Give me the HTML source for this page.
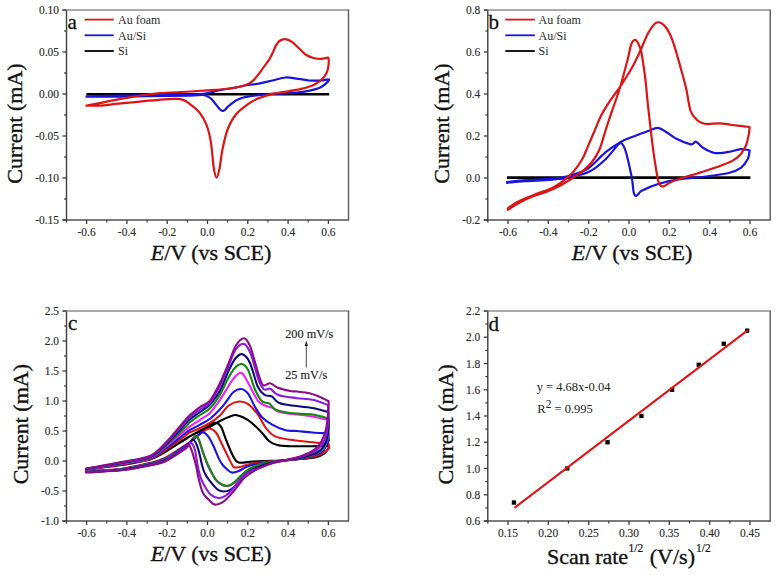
<!DOCTYPE html>
<html><head><meta charset="utf-8"><style>
html,body{margin:0;padding:0;background:#fff;}
svg{display:block;}
text{font-family:"Liberation Serif", serif;}
.tk{font-size:12.3px;fill:#2a2a2a;stroke:#2a2a2a;stroke-width:0.15px;}
.lg{font-size:12px;fill:#2a2a2a;}
.pl{font-size:21px;fill:#111;stroke:#111;stroke-width:0.3px;}
.ti{font-size:22px;fill:#111;stroke:#111;stroke-width:0.35px;}
.eq{font-size:12.5px;fill:#222;}
.sup{font-size:11.5px;fill:#111;stroke:#111;stroke-width:0.2px;}
.ann{font-size:12.3px;fill:#222;stroke:#222;stroke-width:0.15px;}
</style></head><body>
<svg width="780" height="575" viewBox="0 0 780 575">
<rect width="780" height="575" fill="#fff"/>
<line x1="62.5" y1="220" x2="348.5" y2="220" stroke="#505050" stroke-width="1.5"/>
<line x1="66.5" y1="10" x2="66.5" y2="222.5" stroke="#3c3c3c" stroke-width="1.4"/>
<line x1="62.5" y1="10" x2="349.2" y2="10" stroke="#8c8c8c" stroke-width="1.6"/>
<line x1="348.5" y1="10" x2="348.5" y2="220.7" stroke="#5a5a5a" stroke-width="1.4"/>
<line x1="86.6" y1="220" x2="86.6" y2="224" stroke="#3c3c3c" stroke-width="1.3"/>
<line x1="126.9" y1="220" x2="126.9" y2="224" stroke="#3c3c3c" stroke-width="1.3"/>
<line x1="167.2" y1="220" x2="167.2" y2="224" stroke="#3c3c3c" stroke-width="1.3"/>
<line x1="207.5" y1="220" x2="207.5" y2="224" stroke="#3c3c3c" stroke-width="1.3"/>
<line x1="247.8" y1="220" x2="247.8" y2="224" stroke="#3c3c3c" stroke-width="1.3"/>
<line x1="288.1" y1="220" x2="288.1" y2="224" stroke="#3c3c3c" stroke-width="1.3"/>
<line x1="328.4" y1="220" x2="328.4" y2="224" stroke="#3c3c3c" stroke-width="1.3"/>
<line x1="106.8" y1="220" x2="106.8" y2="222.5" stroke="#3c3c3c" stroke-width="1.2"/>
<line x1="147.1" y1="220" x2="147.1" y2="222.5" stroke="#3c3c3c" stroke-width="1.2"/>
<line x1="187.4" y1="220" x2="187.4" y2="222.5" stroke="#3c3c3c" stroke-width="1.2"/>
<line x1="227.6" y1="220" x2="227.6" y2="222.5" stroke="#3c3c3c" stroke-width="1.2"/>
<line x1="267.9" y1="220" x2="267.9" y2="222.5" stroke="#3c3c3c" stroke-width="1.2"/>
<line x1="308.2" y1="220" x2="308.2" y2="222.5" stroke="#3c3c3c" stroke-width="1.2"/>
<text transform="translate(86.6,236) scale(0.93,1)" text-anchor="middle" class="tk">-0.6</text>
<text transform="translate(126.9,236) scale(0.93,1)" text-anchor="middle" class="tk">-0.4</text>
<text transform="translate(167.2,236) scale(0.93,1)" text-anchor="middle" class="tk">-0.2</text>
<text transform="translate(207.5,236) scale(0.93,1)" text-anchor="middle" class="tk">0.0</text>
<text transform="translate(247.8,236) scale(0.93,1)" text-anchor="middle" class="tk">0.2</text>
<text transform="translate(288.1,236) scale(0.93,1)" text-anchor="middle" class="tk">0.4</text>
<text transform="translate(328.4,236) scale(0.93,1)" text-anchor="middle" class="tk">0.6</text>
<line x1="62.5" y1="10.0" x2="66.5" y2="10.0" stroke="#3c3c3c" stroke-width="1.3"/>
<line x1="62.5" y1="52.0" x2="66.5" y2="52.0" stroke="#3c3c3c" stroke-width="1.3"/>
<line x1="62.5" y1="94.0" x2="66.5" y2="94.0" stroke="#3c3c3c" stroke-width="1.3"/>
<line x1="62.5" y1="136.0" x2="66.5" y2="136.0" stroke="#3c3c3c" stroke-width="1.3"/>
<line x1="62.5" y1="178.0" x2="66.5" y2="178.0" stroke="#3c3c3c" stroke-width="1.3"/>
<line x1="62.5" y1="220.0" x2="66.5" y2="220.0" stroke="#3c3c3c" stroke-width="1.3"/>
<line x1="64.0" y1="31.0" x2="66.5" y2="31.0" stroke="#3c3c3c" stroke-width="1.2"/>
<line x1="64.0" y1="73.0" x2="66.5" y2="73.0" stroke="#3c3c3c" stroke-width="1.2"/>
<line x1="64.0" y1="115.0" x2="66.5" y2="115.0" stroke="#3c3c3c" stroke-width="1.2"/>
<line x1="64.0" y1="157.0" x2="66.5" y2="157.0" stroke="#3c3c3c" stroke-width="1.2"/>
<line x1="64.0" y1="199.0" x2="66.5" y2="199.0" stroke="#3c3c3c" stroke-width="1.2"/>
<text transform="translate(59.0,14.1) scale(0.93,1)" text-anchor="end" class="tk">0.10</text>
<text transform="translate(59.0,56.1) scale(0.93,1)" text-anchor="end" class="tk">0.05</text>
<text transform="translate(59.0,98.1) scale(0.93,1)" text-anchor="end" class="tk">0.00</text>
<text transform="translate(59.0,140.1) scale(0.93,1)" text-anchor="end" class="tk">-0.05</text>
<text transform="translate(59.0,182.1) scale(0.93,1)" text-anchor="end" class="tk">-0.10</text>
<text transform="translate(59.0,224.1) scale(0.93,1)" text-anchor="end" class="tk">-0.15</text>
<line x1="86.4" y1="94.2" x2="329.2" y2="94.2" stroke="#000000" stroke-width="2.4"/>
<path d="M86.4,96.3 C92.0,96.2 107.7,95.8 120.0,95.6 C132.3,95.4 148.3,95.3 160.0,95.1 C171.7,94.9 182.5,94.8 190.0,94.6 C197.5,94.3 200.0,94.3 205.0,93.6 C210.0,92.9 215.0,91.2 220.0,90.2 C225.0,89.2 230.3,88.5 235.0,87.6 C239.7,86.7 243.8,85.7 248.0,85.0 C252.2,84.3 256.0,84.2 260.0,83.4 C264.0,82.7 267.9,81.5 272.2,80.5 C276.5,79.5 281.6,77.8 285.6,77.5 C289.7,77.2 292.6,78.2 296.5,78.7 C300.4,79.2 306.7,80.2 308.7,80.5 L308.7,80.5 C310.7,80.5 317.5,80.7 320.9,80.5 C324.2,80.3 328.0,79.0 328.8,79.5 C329.6,80.0 327.3,82.2 325.8,83.6 C324.3,85.0 322.6,86.6 319.7,87.8 C316.8,89.0 312.6,90.1 308.7,90.9 C304.8,91.7 300.6,92.3 296.5,92.7 C292.4,93.1 290.4,92.9 284.4,93.3 C278.4,93.7 267.9,94.0 260.4,94.9 C252.9,95.8 244.8,96.9 239.6,98.7 C234.4,100.5 231.5,103.9 229.1,105.7 C226.7,107.5 226.1,109.0 225.0,109.8 C223.9,110.6 223.4,110.9 222.5,110.8 C221.6,110.7 221.2,110.7 219.8,109.2 C218.4,107.7 215.6,103.9 214.0,102.0 C212.4,100.1 211.8,99.0 210.0,97.8 C208.2,96.6 206.3,95.4 203.0,95.0 C199.7,94.6 198.8,95.4 190.0,95.6 C181.2,95.8 161.7,96.0 150.0,96.2 C138.3,96.4 130.6,96.5 120.0,96.6 C109.4,96.7 92.0,96.6 86.4,96.6" fill="none" stroke="#1a14d8" stroke-width="2.2" stroke-linejoin="round" stroke-linecap="round"/>
<path d="M86.4,105.6 C89.6,105.0 99.2,103.0 105.6,101.8 C112.0,100.6 118.5,99.3 124.9,98.2 C131.3,97.1 138.2,95.8 144.1,95.0 C149.9,94.2 152.3,93.8 160.0,93.2 C167.7,92.6 180.8,92.1 190.0,91.5 C199.2,90.9 208.3,90.3 215.0,89.8 C221.7,89.3 225.8,89.0 230.0,88.5 C234.2,88.0 237.3,87.3 240.4,86.5 C243.5,85.7 246.5,84.9 248.8,83.8 C251.1,82.7 252.3,81.4 254.0,79.7 C255.7,78.0 257.5,75.7 259.2,73.4 C260.9,71.1 262.6,68.5 264.4,66.1 C266.1,63.7 268.3,61.1 269.7,58.8 C271.1,56.5 271.8,54.7 272.8,52.5 C273.8,50.3 274.8,47.5 275.9,45.6 C277.0,43.7 278.0,42.1 279.5,41.0 C281.0,39.9 283.0,39.1 285.0,39.2 C287.0,39.3 289.4,40.1 291.7,41.6 C294.0,43.1 296.6,46.1 299.0,48.3 C301.4,50.5 303.9,53.4 306.3,55.0 C308.7,56.6 311.2,57.4 313.6,58.0 C316.0,58.6 318.5,59.0 320.9,58.9 C323.3,58.8 327.0,57.8 328.2,57.6 L328.2,57.6 C328.3,58.3 328.9,59.6 328.8,61.7 C328.7,63.8 328.3,67.8 327.6,70.2 C326.9,72.6 325.8,74.5 324.5,76.3 C323.2,78.1 321.7,79.6 319.7,81.1 C317.7,82.6 315.6,84.1 312.4,85.4 C309.1,86.7 304.9,88.0 300.2,89.1 C295.5,90.2 289.5,91.0 284.4,91.9 C279.3,92.8 274.1,93.5 269.7,94.6 C265.3,95.7 261.6,97.0 258.0,98.5 C254.4,100.0 252.0,101.3 248.3,103.9 C244.7,106.5 239.6,110.0 236.1,114.3 C232.6,118.6 229.7,123.9 227.4,130.0 C225.1,136.1 223.5,144.5 222.2,150.9 C220.9,157.3 220.5,163.9 219.6,168.3 C218.7,172.8 217.6,177.6 216.6,177.6 C215.6,177.6 214.8,174.2 213.8,168.3 C212.9,162.4 212.1,149.4 210.9,142.2 C209.7,134.9 208.4,129.7 206.5,124.8 C204.6,119.9 202.2,115.9 199.6,112.6 C197.0,109.3 193.2,106.7 190.9,104.8 C188.6,102.9 187.6,102.1 186.0,101.2 C184.4,100.3 183.3,99.8 181.5,99.4 C179.7,99.0 177.0,99.0 175.0,98.9 C173.0,98.9 174.8,98.7 169.7,99.1 C164.5,99.5 152.6,100.4 144.1,101.2 C135.6,102.0 126.0,103.0 118.5,103.7 C111.0,104.4 104.5,105.3 99.2,105.6 C93.9,105.9 88.5,105.6 86.4,105.6" fill="none" stroke="#dd1414" stroke-width="2.2" stroke-linejoin="round" stroke-linecap="round"/>
<line x1="84.6" y1="19.6" x2="113.7" y2="19.6" stroke="#dd1414" stroke-width="1.8"/>
<text x="118" y="23.8" class="lg">Au foam</text>
<line x1="84.6" y1="35.3" x2="113.7" y2="35.3" stroke="#1a14d8" stroke-width="1.8"/>
<text x="118" y="39.5" class="lg">Au/Si</text>
<line x1="84.6" y1="51.0" x2="113.7" y2="51.0" stroke="#000000" stroke-width="1.8"/>
<text x="118" y="55.2" class="lg">Si</text>
<text x="67.5" y="28.6" class="pl">a</text>
<text x="211" y="260" text-anchor="middle" class="ti"><tspan font-style="italic">E</tspan>/V (vs SCE)</text>
<text transform="translate(22,123.5) rotate(-90)" text-anchor="middle" class="ti">Current (mA)</text>
<line x1="483.8" y1="220" x2="770.2" y2="220" stroke="#505050" stroke-width="1.5"/>
<line x1="487.8" y1="10" x2="487.8" y2="222.5" stroke="#3c3c3c" stroke-width="1.4"/>
<line x1="483.8" y1="10" x2="770.9000000000001" y2="10" stroke="#8c8c8c" stroke-width="1.6"/>
<line x1="770.2" y1="10" x2="770.2" y2="220.7" stroke="#5a5a5a" stroke-width="1.4"/>
<line x1="508.0" y1="220" x2="508.0" y2="224" stroke="#3c3c3c" stroke-width="1.3"/>
<line x1="548.3" y1="220" x2="548.3" y2="224" stroke="#3c3c3c" stroke-width="1.3"/>
<line x1="588.7" y1="220" x2="588.7" y2="224" stroke="#3c3c3c" stroke-width="1.3"/>
<line x1="629.0" y1="220" x2="629.0" y2="224" stroke="#3c3c3c" stroke-width="1.3"/>
<line x1="669.3" y1="220" x2="669.3" y2="224" stroke="#3c3c3c" stroke-width="1.3"/>
<line x1="709.7" y1="220" x2="709.7" y2="224" stroke="#3c3c3c" stroke-width="1.3"/>
<line x1="750.0" y1="220" x2="750.0" y2="224" stroke="#3c3c3c" stroke-width="1.3"/>
<line x1="528.1" y1="220" x2="528.1" y2="222.5" stroke="#3c3c3c" stroke-width="1.2"/>
<line x1="568.5" y1="220" x2="568.5" y2="222.5" stroke="#3c3c3c" stroke-width="1.2"/>
<line x1="608.8" y1="220" x2="608.8" y2="222.5" stroke="#3c3c3c" stroke-width="1.2"/>
<line x1="649.2" y1="220" x2="649.2" y2="222.5" stroke="#3c3c3c" stroke-width="1.2"/>
<line x1="689.5" y1="220" x2="689.5" y2="222.5" stroke="#3c3c3c" stroke-width="1.2"/>
<line x1="729.9" y1="220" x2="729.9" y2="222.5" stroke="#3c3c3c" stroke-width="1.2"/>
<text transform="translate(508.0,236) scale(0.93,1)" text-anchor="middle" class="tk">-0.6</text>
<text transform="translate(548.3,236) scale(0.93,1)" text-anchor="middle" class="tk">-0.4</text>
<text transform="translate(588.7,236) scale(0.93,1)" text-anchor="middle" class="tk">-0.2</text>
<text transform="translate(629.0,236) scale(0.93,1)" text-anchor="middle" class="tk">0.0</text>
<text transform="translate(669.3,236) scale(0.93,1)" text-anchor="middle" class="tk">0.2</text>
<text transform="translate(709.7,236) scale(0.93,1)" text-anchor="middle" class="tk">0.4</text>
<text transform="translate(750.0,236) scale(0.93,1)" text-anchor="middle" class="tk">0.6</text>
<line x1="483.8" y1="10.0" x2="487.8" y2="10.0" stroke="#3c3c3c" stroke-width="1.3"/>
<line x1="483.8" y1="52.0" x2="487.8" y2="52.0" stroke="#3c3c3c" stroke-width="1.3"/>
<line x1="483.8" y1="94.0" x2="487.8" y2="94.0" stroke="#3c3c3c" stroke-width="1.3"/>
<line x1="483.8" y1="136.0" x2="487.8" y2="136.0" stroke="#3c3c3c" stroke-width="1.3"/>
<line x1="483.8" y1="178.0" x2="487.8" y2="178.0" stroke="#3c3c3c" stroke-width="1.3"/>
<line x1="483.8" y1="220.0" x2="487.8" y2="220.0" stroke="#3c3c3c" stroke-width="1.3"/>
<line x1="485.3" y1="31.0" x2="487.8" y2="31.0" stroke="#3c3c3c" stroke-width="1.2"/>
<line x1="485.3" y1="73.0" x2="487.8" y2="73.0" stroke="#3c3c3c" stroke-width="1.2"/>
<line x1="485.3" y1="115.0" x2="487.8" y2="115.0" stroke="#3c3c3c" stroke-width="1.2"/>
<line x1="485.3" y1="157.0" x2="487.8" y2="157.0" stroke="#3c3c3c" stroke-width="1.2"/>
<line x1="485.3" y1="199.0" x2="487.8" y2="199.0" stroke="#3c3c3c" stroke-width="1.2"/>
<text transform="translate(480.3,14.1) scale(0.93,1)" text-anchor="end" class="tk">0.8</text>
<text transform="translate(480.3,56.1) scale(0.93,1)" text-anchor="end" class="tk">0.6</text>
<text transform="translate(480.3,98.1) scale(0.93,1)" text-anchor="end" class="tk">0.4</text>
<text transform="translate(480.3,140.1) scale(0.93,1)" text-anchor="end" class="tk">0.2</text>
<text transform="translate(480.3,182.1) scale(0.93,1)" text-anchor="end" class="tk">0.0</text>
<text transform="translate(480.3,224.1) scale(0.93,1)" text-anchor="end" class="tk">-0.2</text>
<line x1="507" y1="177.6" x2="750.4" y2="177.6" stroke="#000000" stroke-width="2.8"/>
<path d="M507.0,182.0 C510.2,181.7 518.5,180.8 526.0,180.2 C533.5,179.6 544.9,179.3 552.2,178.6 C559.5,177.8 563.6,177.4 569.6,175.7 C575.6,174.0 582.0,172.4 588.0,168.5 C594.0,164.6 600.2,156.7 605.7,152.2 C611.2,147.7 616.7,144.3 621.3,141.7 C625.9,139.1 629.1,138.2 633.5,136.5 C637.9,134.8 643.4,132.8 647.4,131.3 C651.4,129.9 654.6,127.7 657.8,127.8 C661.0,127.9 663.3,130.3 666.5,132.2 C669.7,134.1 672.9,137.1 677.0,139.1 C681.1,141.1 687.7,143.9 690.9,144.3 C694.1,144.7 694.1,141.1 696.1,141.7 C698.1,142.3 699.9,145.9 703.0,147.8 C706.1,149.7 710.8,152.3 714.8,153.0 C718.8,153.7 722.6,152.8 727.0,152.2 C731.4,151.6 737.1,149.5 740.9,149.2 C744.7,148.9 748.1,150.2 749.6,150.4 L749.6,150.4 C749.3,151.8 749.2,156.2 747.8,159.1 C746.3,162.0 744.1,165.5 740.9,167.8 C737.7,170.1 734.5,171.6 728.7,173.0 C722.9,174.4 714.2,175.5 706.1,176.5 C698.0,177.5 687.8,177.9 680.0,179.1 C672.2,180.3 665.9,181.6 659.6,183.5 C653.3,185.4 645.7,188.7 642.2,190.4 C638.7,192.1 639.6,192.9 638.5,193.8 C637.4,194.7 636.6,196.3 635.8,196.0 C635.0,195.7 634.3,195.2 633.6,192.0 C632.9,188.8 632.9,183.3 631.7,177.0 C630.5,170.7 627.8,159.1 626.5,154.0 C625.2,148.9 624.7,148.3 623.8,146.5 C622.9,144.7 622.3,143.6 621.3,143.3 C620.3,143.0 620.6,142.2 618.0,144.8 C615.4,147.4 610.4,154.7 605.7,159.1 C601.0,163.5 596.0,168.2 590.0,171.3 C584.0,174.4 575.9,176.0 569.6,177.4 C563.3,178.8 559.5,179.0 552.2,179.6 C544.9,180.2 533.5,180.7 526.0,181.2 C518.5,181.7 510.2,182.5 507.0,182.8" fill="none" stroke="#1a14d8" stroke-width="2.2" stroke-linejoin="round" stroke-linecap="round"/>
<path d="M507.8,208.4 C509.4,207.3 512.9,204.2 517.4,201.9 C521.9,199.6 529.0,196.8 534.8,194.5 C540.6,192.2 547.3,190.4 552.2,188.0 C557.1,185.6 560.8,182.6 564.3,180.0 C567.8,177.4 570.1,175.5 573.0,172.2 C575.9,168.9 579.5,163.6 581.7,160.0 C583.9,156.4 584.2,155.1 586.2,150.5 C588.2,145.9 591.5,137.9 594.0,132.2 C596.5,126.5 598.5,120.9 600.9,116.1 C603.3,111.3 605.8,107.4 608.2,103.6 C610.6,99.8 613.5,95.9 615.5,93.1 C617.5,90.2 617.6,90.7 620.3,86.5 C623.0,82.3 628.5,73.9 631.8,68.0 C635.1,62.1 637.3,57.2 640.1,51.3 C642.9,45.4 645.7,37.3 648.5,32.5 C651.3,27.7 654.0,23.5 656.8,22.5 C659.6,21.5 662.6,23.6 665.2,26.5 C667.8,29.4 669.9,33.6 672.2,39.6 C674.5,45.6 676.8,54.1 679.1,62.2 C681.4,70.3 684.2,80.2 686.1,88.3 C688.0,96.4 688.7,105.6 690.6,111.0 C692.5,116.4 695.0,118.3 697.6,120.5 C700.2,122.7 702.4,123.5 706.1,124.0 C709.8,124.5 715.6,123.1 720.0,123.3 C724.4,123.5 727.3,124.4 732.2,125.0 C737.1,125.6 746.7,126.7 749.6,127.0 L749.6,127.0 C749.5,128.3 749.3,131.8 748.7,134.8 C748.1,137.8 747.4,142.0 746.1,145.2 C744.8,148.4 743.2,151.3 740.9,153.9 C738.6,156.5 736.6,158.6 732.2,160.9 C727.9,163.2 720.6,165.7 714.8,167.8 C709.0,169.9 702.2,172.0 697.4,173.5 C692.5,175.0 690.0,175.4 685.7,176.8 C681.4,178.2 675.2,180.2 671.7,181.7 C668.2,183.2 666.3,185.3 664.5,186.0 C662.7,186.7 662.0,186.7 661.0,186.0 C660.0,185.3 659.3,184.1 658.6,182.0 C657.9,179.9 657.6,178.5 656.8,173.5 C655.9,168.5 654.6,160.1 653.5,152.2 C652.4,144.3 651.3,134.7 650.3,126.0 C649.3,117.3 648.2,107.9 647.4,100.0 C646.6,92.1 646.3,86.3 645.3,78.5 C644.3,70.7 642.7,58.9 641.5,53.0 C640.3,47.1 639.1,45.2 638.0,43.0 C636.9,40.8 636.1,39.5 634.9,39.8 C633.7,40.1 632.2,41.7 631.0,45.0 C629.8,48.3 629.4,52.8 627.6,59.7 C625.8,66.6 622.4,79.4 620.3,86.5 C618.2,93.6 616.7,97.6 615.0,102.5 C613.3,107.4 611.9,111.2 610.3,116.1 C608.6,121.0 606.9,126.2 605.1,131.8 C603.3,137.5 601.5,145.0 599.3,150.0 C597.1,155.0 594.6,158.6 592.0,162.0 C589.4,165.4 587.2,167.4 583.5,170.4 C579.8,173.4 574.8,176.8 569.6,180.0 C564.4,183.2 559.5,186.3 552.2,189.5 C544.9,192.7 533.4,195.9 526.0,199.3 C518.6,202.7 510.8,208.1 507.8,209.8" fill="none" stroke="#dd1414" stroke-width="2.2" stroke-linejoin="round" stroke-linecap="round"/>
<line x1="505.3" y1="19.6" x2="534.8" y2="19.6" stroke="#dd1414" stroke-width="1.8"/>
<text x="538.6" y="23.8" class="lg">Au foam</text>
<line x1="505.3" y1="35.3" x2="534.8" y2="35.3" stroke="#1a14d8" stroke-width="1.8"/>
<text x="538.6" y="39.5" class="lg">Au/Si</text>
<line x1="505.3" y1="51.0" x2="534.8" y2="51.0" stroke="#000000" stroke-width="1.8"/>
<text x="538.6" y="55.2" class="lg">Si</text>
<text x="488.5" y="29.2" class="pl">b</text>
<text x="632" y="260" text-anchor="middle" class="ti"><tspan font-style="italic">E</tspan>/V (vs SCE)</text>
<text transform="translate(449,123.5) rotate(-90)" text-anchor="middle" class="ti">Current (mA)</text>
<line x1="62.5" y1="521" x2="348.5" y2="521" stroke="#505050" stroke-width="1.5"/>
<line x1="66.5" y1="311" x2="66.5" y2="523.5" stroke="#3c3c3c" stroke-width="1.4"/>
<line x1="62.5" y1="311" x2="349.2" y2="311" stroke="#8c8c8c" stroke-width="1.6"/>
<line x1="348.5" y1="311" x2="348.5" y2="521.7" stroke="#5a5a5a" stroke-width="1.4"/>
<line x1="86.6" y1="521" x2="86.6" y2="525" stroke="#3c3c3c" stroke-width="1.3"/>
<line x1="126.9" y1="521" x2="126.9" y2="525" stroke="#3c3c3c" stroke-width="1.3"/>
<line x1="167.2" y1="521" x2="167.2" y2="525" stroke="#3c3c3c" stroke-width="1.3"/>
<line x1="207.5" y1="521" x2="207.5" y2="525" stroke="#3c3c3c" stroke-width="1.3"/>
<line x1="247.8" y1="521" x2="247.8" y2="525" stroke="#3c3c3c" stroke-width="1.3"/>
<line x1="288.1" y1="521" x2="288.1" y2="525" stroke="#3c3c3c" stroke-width="1.3"/>
<line x1="328.4" y1="521" x2="328.4" y2="525" stroke="#3c3c3c" stroke-width="1.3"/>
<line x1="106.8" y1="521" x2="106.8" y2="523.5" stroke="#3c3c3c" stroke-width="1.2"/>
<line x1="147.1" y1="521" x2="147.1" y2="523.5" stroke="#3c3c3c" stroke-width="1.2"/>
<line x1="187.4" y1="521" x2="187.4" y2="523.5" stroke="#3c3c3c" stroke-width="1.2"/>
<line x1="227.6" y1="521" x2="227.6" y2="523.5" stroke="#3c3c3c" stroke-width="1.2"/>
<line x1="267.9" y1="521" x2="267.9" y2="523.5" stroke="#3c3c3c" stroke-width="1.2"/>
<line x1="308.2" y1="521" x2="308.2" y2="523.5" stroke="#3c3c3c" stroke-width="1.2"/>
<text transform="translate(86.6,537) scale(0.93,1)" text-anchor="middle" class="tk">-0.6</text>
<text transform="translate(126.9,537) scale(0.93,1)" text-anchor="middle" class="tk">-0.4</text>
<text transform="translate(167.2,537) scale(0.93,1)" text-anchor="middle" class="tk">-0.2</text>
<text transform="translate(207.5,537) scale(0.93,1)" text-anchor="middle" class="tk">0.0</text>
<text transform="translate(247.8,537) scale(0.93,1)" text-anchor="middle" class="tk">0.2</text>
<text transform="translate(288.1,537) scale(0.93,1)" text-anchor="middle" class="tk">0.4</text>
<text transform="translate(328.4,537) scale(0.93,1)" text-anchor="middle" class="tk">0.6</text>
<line x1="62.5" y1="311.0" x2="66.5" y2="311.0" stroke="#3c3c3c" stroke-width="1.3"/>
<line x1="62.5" y1="341.0" x2="66.5" y2="341.0" stroke="#3c3c3c" stroke-width="1.3"/>
<line x1="62.5" y1="371.0" x2="66.5" y2="371.0" stroke="#3c3c3c" stroke-width="1.3"/>
<line x1="62.5" y1="401.0" x2="66.5" y2="401.0" stroke="#3c3c3c" stroke-width="1.3"/>
<line x1="62.5" y1="431.0" x2="66.5" y2="431.0" stroke="#3c3c3c" stroke-width="1.3"/>
<line x1="62.5" y1="461.0" x2="66.5" y2="461.0" stroke="#3c3c3c" stroke-width="1.3"/>
<line x1="62.5" y1="491.0" x2="66.5" y2="491.0" stroke="#3c3c3c" stroke-width="1.3"/>
<line x1="62.5" y1="521.0" x2="66.5" y2="521.0" stroke="#3c3c3c" stroke-width="1.3"/>
<line x1="64.0" y1="326.0" x2="66.5" y2="326.0" stroke="#3c3c3c" stroke-width="1.2"/>
<line x1="64.0" y1="356.0" x2="66.5" y2="356.0" stroke="#3c3c3c" stroke-width="1.2"/>
<line x1="64.0" y1="386.0" x2="66.5" y2="386.0" stroke="#3c3c3c" stroke-width="1.2"/>
<line x1="64.0" y1="416.0" x2="66.5" y2="416.0" stroke="#3c3c3c" stroke-width="1.2"/>
<line x1="64.0" y1="446.0" x2="66.5" y2="446.0" stroke="#3c3c3c" stroke-width="1.2"/>
<line x1="64.0" y1="476.0" x2="66.5" y2="476.0" stroke="#3c3c3c" stroke-width="1.2"/>
<line x1="64.0" y1="506.0" x2="66.5" y2="506.0" stroke="#3c3c3c" stroke-width="1.2"/>
<text transform="translate(59.0,315.1) scale(0.93,1)" text-anchor="end" class="tk">2.5</text>
<text transform="translate(59.0,345.1) scale(0.93,1)" text-anchor="end" class="tk">2.0</text>
<text transform="translate(59.0,375.1) scale(0.93,1)" text-anchor="end" class="tk">1.5</text>
<text transform="translate(59.0,405.1) scale(0.93,1)" text-anchor="end" class="tk">1.0</text>
<text transform="translate(59.0,435.1) scale(0.93,1)" text-anchor="end" class="tk">0.5</text>
<text transform="translate(59.0,465.1) scale(0.93,1)" text-anchor="end" class="tk">0.0</text>
<text transform="translate(59.0,495.1) scale(0.93,1)" text-anchor="end" class="tk">-0.5</text>
<text transform="translate(59.0,525.1) scale(0.93,1)" text-anchor="end" class="tk">-1.0</text>
<text x="68" y="330.2" class="pl">c</text>
<text x="211" y="560.5" text-anchor="middle" class="ti"><tspan font-style="italic">E</tspan>/V (vs SCE)</text>
<text transform="translate(28,424.2) rotate(-90)" text-anchor="middle" class="ti">Current (mA)</text>
<text x="285.2" y="337.5" class="ann">200 mV/s</text>
<text x="285.2" y="379.3" class="ann">25 mV/s</text>
<line x1="306.3" y1="345" x2="306.3" y2="367.6" stroke="#333" stroke-width="0.9"/>
<path d="M304.5,346 L306.3,340.8 L308.1,346 Z" fill="#333"/>
<path d="M86.3,469.5 C92.2,468.8 111.1,466.7 121.7,465.0 C132.3,463.3 142.8,461.7 150.0,459.5 C157.2,457.3 159.2,455.3 165.0,452.0 C170.8,448.7 180.8,442.1 185.0,439.5 C189.2,436.9 187.5,437.5 190.0,436.2 C192.5,434.9 196.7,433.1 200.0,431.5 C203.3,429.9 206.7,428.6 210.0,426.8 C213.3,425.1 216.7,422.7 220.0,421.0 C223.3,419.3 227.2,417.5 230.0,416.5 C232.8,415.5 234.0,414.6 237.0,415.2 C240.0,415.8 244.2,417.4 248.1,420.1 C252.0,422.8 257.1,427.7 260.6,431.2 C264.1,434.7 266.2,438.7 269.0,441.0 C271.8,443.3 273.8,444.2 277.3,445.1 C280.8,446.0 284.1,446.0 290.0,446.2 C295.9,446.4 306.2,446.3 312.6,446.2 C319.0,446.1 325.9,445.5 328.5,445.4 L328.7,448.0 C328.0,448.9 326.8,451.8 324.5,453.4 C322.2,455.0 318.7,456.7 314.8,457.6 C310.9,458.5 306.7,458.5 300.9,459.0 C295.1,459.5 286.0,460.2 280.0,460.5 C274.0,460.8 269.9,460.8 265.0,461.0 C260.1,461.2 254.2,461.4 250.4,461.7 C246.6,462.0 244.2,462.8 242.0,462.8 C239.8,462.9 238.7,462.6 237.5,462.0 C236.3,461.4 235.9,460.8 234.8,459.1 C233.7,457.4 232.6,455.3 231.1,452.0 C229.6,448.7 227.5,443.4 225.9,439.4 C224.3,435.4 222.9,430.6 221.7,428.0 C220.5,425.4 219.8,424.9 218.6,424.0 C217.4,423.1 216.2,422.4 214.8,422.5 C213.4,422.6 211.9,423.4 210.3,424.3 C208.7,425.2 207.6,426.3 205.0,427.8 C202.4,429.3 198.3,431.6 195.0,433.5 C191.7,435.4 190.0,435.9 185.0,439.0 C180.0,442.1 170.8,448.6 165.0,452.0 C159.2,455.4 157.2,457.3 150.0,459.5 C142.8,461.7 132.3,463.3 121.7,465.0 C111.1,466.7 92.2,468.8 86.3,469.5 L86.3,469.5 C86.3,469.5 86.3,469.5 86.3,469.5" fill="none" stroke="#000000" stroke-width="2.1" stroke-linejoin="round" stroke-linecap="round"/>
<path d="M86.3,469.3 C92.2,468.5 111.1,466.2 121.7,464.5 C132.3,462.8 142.8,461.3 150.0,459.0 C157.2,456.7 159.2,454.3 165.0,450.5 C170.8,446.7 180.8,439.0 185.0,436.0 C189.2,433.0 187.5,433.6 190.0,432.3 C192.5,431.0 196.7,429.6 200.0,428.0 C203.3,426.4 206.7,425.1 210.0,423.0 C213.3,420.9 216.9,418.4 220.0,415.5 C223.1,412.6 225.5,407.8 228.7,405.5 C231.9,403.2 235.9,401.7 239.1,401.5 C242.3,401.3 245.0,401.9 248.1,404.1 C251.2,406.3 254.8,410.4 257.8,414.5 C260.8,418.6 263.4,424.8 266.2,428.4 C269.0,432.0 270.5,434.2 274.5,436.1 C278.5,438.0 283.6,438.8 290.0,439.8 C296.4,440.8 306.2,441.5 312.6,442.2 C319.0,442.9 325.9,443.5 328.5,443.8 L329.2,447.0 C328.9,447.5 328.6,448.9 327.3,450.0 C326.1,451.1 324.6,452.6 321.7,453.8 C318.8,455.1 314.4,456.6 310.0,457.5 C305.6,458.4 300.0,458.9 295.0,459.5 C290.0,460.1 285.0,460.4 280.0,460.8 C275.0,461.2 269.9,461.2 265.0,461.7 C260.1,462.2 254.2,463.0 250.4,463.8 C246.6,464.6 244.3,465.9 242.0,466.5 C239.7,467.1 238.0,467.5 236.5,467.5 C235.0,467.5 234.5,468.1 233.2,466.5 C231.9,464.9 230.3,461.2 228.5,457.6 C226.7,454.0 224.4,449.2 222.3,445.0 C220.2,440.8 218.1,435.2 216.0,432.5 C213.9,429.8 211.6,428.9 209.8,428.5 C208.1,428.1 207.1,429.3 205.5,430.2 C203.9,431.1 202.2,432.3 200.0,434.0 C197.8,435.7 194.5,438.6 192.0,440.5 C189.5,442.4 189.5,442.6 185.0,445.5 C180.5,448.4 170.8,455.1 165.0,458.0 C159.2,460.9 157.2,461.0 150.0,462.8 C142.8,464.6 132.3,467.3 121.7,468.7 C111.1,470.1 92.2,470.6 86.3,471.0 L86.3,471.0 C86.3,470.7 86.3,469.6 86.3,469.3" fill="none" stroke="#e01414" stroke-width="2.1" stroke-linejoin="round" stroke-linecap="round"/>
<path d="M86.3,469.2 C92.2,468.3 111.1,465.8 121.7,464.0 C132.3,462.2 142.8,461.0 150.0,458.5 C157.2,456.0 159.2,453.2 165.0,449.0 C170.8,444.8 180.8,436.7 185.0,433.5 C189.2,430.3 187.5,431.4 190.0,429.9 C192.5,428.4 196.7,426.5 200.0,424.6 C203.3,422.8 206.7,421.4 210.0,418.8 C213.3,416.2 217.3,412.0 220.0,409.2 C222.7,406.4 223.8,404.8 226.0,402.0 C228.2,399.2 230.5,394.7 233.0,392.5 C235.5,390.3 238.7,388.8 241.2,389.0 C243.7,389.2 245.8,390.7 248.1,393.7 C250.4,396.7 252.7,403.0 255.0,406.9 C257.3,410.8 259.2,414.4 262.0,417.3 C264.8,420.2 267.8,422.1 271.7,424.3 C275.6,426.5 281.5,429.2 285.7,430.3 C289.9,431.4 292.5,430.6 297.0,431.0 C301.5,431.4 307.4,432.1 312.6,432.5 C317.9,432.9 325.9,433.3 328.5,433.5 L328.9,440.0 C328.4,441.1 327.1,444.5 325.9,446.5 C324.7,448.5 324.7,450.3 321.7,452.0 C318.7,453.7 313.1,455.6 307.8,456.9 C302.5,458.2 296.3,459.2 290.0,460.0 C283.7,460.8 276.6,460.9 270.0,461.8 C263.4,462.7 254.6,464.4 250.4,465.4 C246.2,466.4 247.0,466.7 245.0,467.6 C243.0,468.6 240.6,470.3 238.5,471.1 C236.4,471.9 234.2,472.8 232.4,472.6 C230.7,472.5 229.6,471.5 228.0,470.2 C226.4,468.9 224.3,466.9 222.8,465.0 C221.3,463.1 220.7,462.3 219.1,459.1 C217.5,455.9 215.2,449.5 213.4,445.7 C211.6,441.9 209.9,438.5 208.2,436.3 C206.5,434.1 204.4,432.7 203.0,432.3 C201.6,431.9 200.8,433.2 199.5,434.2 C198.2,435.1 197.4,436.0 195.0,438.0 C192.6,440.0 190.0,442.6 185.0,446.0 C180.0,449.4 170.8,455.6 165.0,458.5 C159.2,461.4 157.2,461.6 150.0,463.3 C142.8,465.1 132.3,467.7 121.7,469.0 C111.1,470.3 92.2,470.9 86.3,471.3 L86.3,471.3 C86.3,470.9 86.3,469.6 86.3,469.2" fill="none" stroke="#1a14e0" stroke-width="2.1" stroke-linejoin="round" stroke-linecap="round"/>
<path d="M86.3,469.1 C92.2,468.2 111.1,465.5 121.7,463.6 C132.3,461.8 142.8,460.7 150.0,458.0 C157.2,455.3 159.2,452.1 165.0,447.5 C170.8,442.9 180.8,434.0 185.0,430.5 C189.2,427.0 187.5,428.2 190.0,426.4 C192.5,424.6 196.7,422.1 200.0,419.8 C203.3,417.6 206.7,416.2 210.0,412.9 C213.3,409.6 216.9,404.3 220.0,399.8 C223.1,395.3 226.1,389.7 228.7,385.7 C231.3,381.7 233.5,378.1 235.7,376.0 C237.9,373.9 239.7,371.6 242.0,373.1 C244.3,374.7 246.9,380.7 249.5,385.3 C252.1,389.9 255.2,397.2 257.8,400.6 C260.4,404.0 262.5,404.3 264.8,405.5 C267.1,406.7 269.4,406.6 271.7,407.6 C274.0,408.6 275.6,410.7 278.7,411.7 C281.8,412.7 286.9,413.3 290.0,413.8 C293.1,414.3 293.2,414.1 297.0,414.5 C300.8,414.9 307.4,415.6 312.6,416.5 C317.8,417.4 325.7,419.4 328.3,420.0 L328.8,428.0 C328.6,429.8 328.4,435.6 327.5,439.0 C326.6,442.4 325.6,446.0 323.5,448.5 C321.4,451.0 318.9,452.4 315.0,454.0 C311.1,455.6 305.0,456.9 300.0,458.0 C295.0,459.1 290.0,459.8 285.0,460.5 C280.0,461.2 275.0,461.2 270.0,462.2 C265.0,463.2 259.2,464.8 255.0,466.5 C250.8,468.2 248.5,469.8 245.0,472.5 C241.5,475.2 237.2,480.7 234.1,483.0 C231.0,485.3 229.2,486.5 226.5,486.3 C223.8,486.1 219.9,484.0 217.6,482.0 C215.2,480.0 214.0,477.2 212.4,474.5 C210.8,471.8 209.6,469.6 208.0,466.0 C206.4,462.4 204.5,457.2 203.0,453.0 C201.5,448.8 200.1,443.2 198.8,440.5 C197.5,437.8 197.4,435.5 195.3,436.5 C193.2,437.5 191.6,442.7 186.5,446.5 C181.4,450.3 171.1,456.3 165.0,459.2 C158.9,462.1 157.2,462.1 150.0,463.8 C142.8,465.5 132.3,468.0 121.7,469.3 C111.1,470.6 92.2,471.2 86.3,471.6 L86.3,471.6 C86.3,471.2 86.3,469.5 86.3,469.1" fill="none" stroke="#ee22ee" stroke-width="2.1" stroke-linejoin="round" stroke-linecap="round"/>
<path d="M86.3,469.0 C92.2,468.1 111.1,465.2 121.7,463.3 C132.3,461.4 142.8,460.3 150.0,457.5 C157.2,454.7 159.2,451.5 165.0,446.5 C170.8,441.5 180.8,431.5 185.0,427.5 C189.2,423.5 187.5,424.4 190.0,422.3 C192.5,420.2 196.7,417.3 200.0,415.0 C203.3,412.7 206.7,411.7 210.0,408.3 C213.3,404.9 216.9,399.8 220.0,394.6 C223.1,389.4 226.1,381.9 228.7,377.3 C231.3,372.7 233.5,369.2 235.7,367.0 C237.9,364.8 239.8,363.6 241.9,364.1 C244.0,364.6 245.9,365.8 248.1,370.0 C250.3,374.2 252.7,384.3 255.0,389.5 C257.3,394.7 259.7,399.0 262.0,401.3 C264.3,403.6 266.7,402.0 269.0,403.4 C271.3,404.8 272.4,408.2 275.9,409.8 C279.4,411.4 283.9,412.2 290.0,413.0 C296.1,413.8 306.2,413.6 312.6,414.5 C319.0,415.4 325.7,417.8 328.3,418.5 L328.8,425.0 C328.6,427.2 328.4,434.2 327.5,438.0 C326.6,441.8 325.6,445.3 323.5,448.0 C321.4,450.7 318.9,452.3 315.0,454.0 C311.1,455.7 305.0,456.9 300.0,458.0 C295.0,459.1 290.0,459.8 285.0,460.5 C280.0,461.2 275.0,461.1 270.0,462.0 C265.0,462.9 259.2,464.3 255.0,466.0 C250.8,467.7 248.5,469.3 245.0,472.0 C241.5,474.7 237.1,480.1 234.1,482.4 C231.1,484.7 229.9,486.0 227.2,485.9 C224.4,485.8 220.1,483.5 217.6,481.5 C215.1,479.5 214.0,476.4 212.4,473.7 C210.8,470.9 209.6,468.6 208.0,465.0 C206.4,461.4 204.5,456.3 203.0,452.0 C201.5,447.7 200.2,442.0 198.8,439.4 C197.4,436.8 196.7,435.1 194.6,436.3 C192.5,437.5 191.4,442.6 186.5,446.5 C181.6,450.4 171.1,456.6 165.0,459.5 C158.9,462.4 157.2,462.4 150.0,464.0 C142.8,465.6 132.3,468.1 121.7,469.4 C111.1,470.7 92.2,471.3 86.3,471.7 L86.3,471.7 C86.3,471.2 86.3,469.4 86.3,469.0" fill="none" stroke="#118811" stroke-width="2.1" stroke-linejoin="round" stroke-linecap="round"/>
<path d="M86.3,468.9 C92.2,467.9 111.1,465.0 121.7,463.0 C132.3,461.0 142.8,459.9 150.0,457.0 C157.2,454.1 159.2,450.9 165.0,445.5 C170.8,440.1 180.8,428.9 185.0,424.5 C189.2,420.1 187.5,421.2 190.0,419.1 C192.5,417.0 196.7,414.4 200.0,412.0 C203.3,409.6 206.7,408.1 210.0,404.5 C213.3,400.9 216.9,396.2 220.0,390.5 C223.1,384.8 226.1,375.9 228.7,370.5 C231.3,365.1 233.4,360.7 235.7,358.0 C238.0,355.3 240.2,353.5 242.6,354.3 C245.0,355.1 247.5,357.6 250.0,363.0 C252.5,368.4 255.3,381.4 257.8,386.7 C260.3,392.0 262.5,393.4 264.8,395.0 C267.1,396.6 269.4,395.1 271.7,396.4 C274.0,397.7 275.6,401.3 278.7,402.8 C281.8,404.3 284.4,404.4 290.0,405.3 C295.6,406.2 306.2,406.9 312.6,408.0 C319.0,409.1 325.7,411.5 328.3,412.2 L328.6,420.0 C328.5,422.3 328.6,429.7 327.8,434.0 C327.0,438.3 326.0,442.8 324.0,446.0 C322.0,449.2 319.8,451.1 316.0,453.0 C312.2,454.9 305.8,456.3 301.0,457.5 C296.2,458.7 291.8,459.2 287.0,460.0 C282.2,460.8 277.0,461.2 272.0,462.5 C267.0,463.8 261.5,465.5 257.0,467.5 C252.5,469.5 248.4,471.8 245.0,474.6 C241.6,477.4 239.2,481.5 236.7,484.1 C234.2,486.7 232.0,489.0 229.8,490.2 C227.6,491.4 225.6,491.5 223.7,491.5 C221.8,491.5 220.4,491.4 218.5,490.2 C216.6,489.0 214.6,486.7 212.4,484.1 C210.2,481.5 207.1,477.8 205.4,474.6 C203.7,471.4 202.9,468.2 202.0,465.0 C201.1,461.8 200.7,458.5 199.8,455.1 C198.9,451.7 197.9,447.3 196.7,444.7 C195.5,442.1 194.2,439.2 192.5,439.6 C190.8,440.0 191.1,443.6 186.5,447.0 C181.9,450.4 171.1,457.4 165.0,460.3 C158.9,463.2 157.2,462.9 150.0,464.5 C142.8,466.1 132.3,468.4 121.7,469.7 C111.1,470.9 92.2,471.6 86.3,472.0 L86.3,472.0 C86.3,471.5 86.3,469.4 86.3,468.9" fill="none" stroke="#0a0a78" stroke-width="2.1" stroke-linejoin="round" stroke-linecap="round"/>
<path d="M86.3,468.7 C92.2,467.7 111.1,464.5 121.7,462.5 C132.3,460.5 142.8,459.5 150.0,456.5 C157.2,453.5 159.2,450.2 165.0,444.5 C170.8,438.8 180.8,427.1 185.0,422.5 C189.2,417.9 187.5,419.2 190.0,417.0 C192.5,414.8 196.7,411.9 200.0,409.5 C203.3,407.1 206.7,406.5 210.0,402.5 C213.3,398.5 216.9,391.7 220.0,385.5 C223.1,379.3 226.1,371.5 228.7,365.5 C231.3,359.5 233.2,353.1 235.7,349.5 C238.2,345.9 241.3,343.5 243.7,343.9 C246.1,344.3 248.1,348.0 250.0,352.0 C251.9,356.0 253.5,363.2 255.0,368.0 C256.5,372.8 257.5,377.4 259.0,381.0 C260.5,384.6 262.2,388.2 264.1,389.5 C266.0,390.8 268.0,387.8 270.3,388.7 C272.6,389.6 273.8,393.4 278.2,395.0 C282.6,396.6 291.3,397.4 297.0,398.2 C302.7,399.0 307.4,398.6 312.6,399.8 C317.8,401.0 325.7,404.2 328.3,405.1 L328.5,416.0 C328.3,418.0 328.2,424.0 327.5,428.0 C326.8,432.0 326.1,436.5 324.5,440.0 C322.9,443.5 321.2,446.4 318.0,449.0 C314.8,451.6 310.2,453.7 305.0,455.5 C299.8,457.3 292.2,458.8 287.0,460.0 C281.8,461.2 278.4,461.6 273.5,463.0 C268.6,464.4 262.6,466.6 257.8,468.5 C253.1,470.4 247.9,472.7 245.0,474.6 C242.1,476.5 242.3,477.4 240.2,479.8 C238.1,482.2 234.9,486.6 232.4,489.3 C229.9,492.0 227.7,494.4 225.4,495.9 C223.1,497.3 220.9,498.2 218.5,498.0 C216.1,497.8 213.0,496.6 210.7,494.6 C208.4,492.6 206.3,488.9 204.6,485.9 C202.8,482.8 201.4,479.8 200.2,476.3 C199.0,472.8 198.5,469.6 197.6,465.0 C196.7,460.4 195.8,452.5 194.6,448.8 C193.4,445.1 191.8,442.7 190.4,442.6 C189.0,442.6 190.2,445.4 186.0,448.5 C181.8,451.6 171.0,458.2 165.0,461.0 C159.0,463.8 157.2,463.5 150.0,465.0 C142.8,466.5 132.3,468.8 121.7,470.0 C111.1,471.2 92.2,471.8 86.3,472.2 L86.3,472.2 C86.3,471.6 86.3,469.3 86.3,468.7" fill="none" stroke="#8a1ee0" stroke-width="2.1" stroke-linejoin="round" stroke-linecap="round"/>
<path d="M86.3,468.5 C92.2,467.4 111.1,464.1 121.7,462.0 C132.3,459.9 142.8,459.1 150.0,456.0 C157.2,452.9 159.2,449.4 165.0,443.5 C170.8,437.6 180.8,425.2 185.0,420.5 C189.2,415.8 187.5,417.2 190.0,415.0 C192.5,412.8 196.7,409.4 200.0,407.0 C203.3,404.6 206.7,404.7 210.0,400.7 C213.3,396.7 216.9,389.3 220.0,383.0 C223.1,376.7 226.1,369.2 228.7,363.0 C231.3,356.8 233.1,350.1 235.7,346.0 C238.2,341.9 241.6,338.3 244.0,338.3 C246.4,338.3 248.2,342.2 250.0,346.0 C251.8,349.8 253.1,356.1 254.7,361.3 C256.3,366.5 257.9,373.0 259.4,377.0 C260.8,381.0 261.6,384.3 263.4,385.3 C265.2,386.3 268.0,382.8 270.3,383.2 C272.6,383.6 274.0,386.2 277.3,387.5 C280.6,388.8 286.7,390.3 290.0,391.0 C293.3,391.7 293.8,391.1 297.0,391.5 C300.2,391.9 305.9,392.5 309.5,393.3 C313.1,394.1 315.7,395.2 318.9,396.5 C322.1,397.8 327.1,400.5 328.7,401.3 L328.0,415.9 C327.6,418.2 326.9,425.6 325.9,429.8 C324.8,434.0 323.5,437.6 321.7,440.9 C319.9,444.1 318.3,446.8 314.8,449.3 C311.3,451.9 305.5,454.5 300.9,456.2 C296.3,457.9 291.6,458.6 287.0,459.7 C282.4,460.8 278.4,461.1 273.5,462.6 C268.6,464.1 262.6,466.5 257.8,468.9 C253.1,471.3 248.2,474.5 245.0,477.2 C241.8,479.9 240.8,482.2 238.5,485.0 C236.2,487.8 234.0,490.9 231.5,493.7 C229.0,496.4 226.4,499.7 223.7,501.5 C220.9,503.3 217.5,504.9 215.0,504.6 C212.5,504.3 210.9,501.8 208.9,499.8 C206.9,497.8 204.5,496.4 202.8,492.8 C201.1,489.2 199.7,482.6 198.5,478.0 C197.3,473.4 197.1,469.7 195.9,465.0 C194.7,460.3 192.8,453.4 191.5,449.9 C190.2,446.4 189.5,444.4 188.3,444.2 C187.1,444.0 188.4,445.6 184.5,448.5 C180.6,451.4 170.8,458.7 165.0,461.5 C159.2,464.3 157.2,464.0 150.0,465.5 C142.8,467.0 132.3,469.1 121.7,470.3 C111.1,471.5 92.2,472.1 86.3,472.5 L86.3,472.5 C86.3,471.8 86.3,469.2 86.3,468.5" fill="none" stroke="#8a0a88" stroke-width="2.1" stroke-linejoin="round" stroke-linecap="round"/>
<line x1="483.8" y1="521" x2="770.2" y2="521" stroke="#505050" stroke-width="1.5"/>
<line x1="487.8" y1="311" x2="487.8" y2="523.5" stroke="#3c3c3c" stroke-width="1.4"/>
<line x1="483.8" y1="311" x2="770.9000000000001" y2="311" stroke="#8c8c8c" stroke-width="1.6"/>
<line x1="770.2" y1="311" x2="770.2" y2="521.7" stroke="#5a5a5a" stroke-width="1.4"/>
<line x1="508.0" y1="521" x2="508.0" y2="525" stroke="#3c3c3c" stroke-width="1.3"/>
<line x1="548.3" y1="521" x2="548.3" y2="525" stroke="#3c3c3c" stroke-width="1.3"/>
<line x1="588.7" y1="521" x2="588.7" y2="525" stroke="#3c3c3c" stroke-width="1.3"/>
<line x1="629.0" y1="521" x2="629.0" y2="525" stroke="#3c3c3c" stroke-width="1.3"/>
<line x1="669.3" y1="521" x2="669.3" y2="525" stroke="#3c3c3c" stroke-width="1.3"/>
<line x1="709.7" y1="521" x2="709.7" y2="525" stroke="#3c3c3c" stroke-width="1.3"/>
<line x1="750.0" y1="521" x2="750.0" y2="525" stroke="#3c3c3c" stroke-width="1.3"/>
<line x1="528.1" y1="521" x2="528.1" y2="523.5" stroke="#3c3c3c" stroke-width="1.2"/>
<line x1="568.5" y1="521" x2="568.5" y2="523.5" stroke="#3c3c3c" stroke-width="1.2"/>
<line x1="608.8" y1="521" x2="608.8" y2="523.5" stroke="#3c3c3c" stroke-width="1.2"/>
<line x1="649.2" y1="521" x2="649.2" y2="523.5" stroke="#3c3c3c" stroke-width="1.2"/>
<line x1="689.5" y1="521" x2="689.5" y2="523.5" stroke="#3c3c3c" stroke-width="1.2"/>
<line x1="729.9" y1="521" x2="729.9" y2="523.5" stroke="#3c3c3c" stroke-width="1.2"/>
<text transform="translate(508.0,537) scale(0.93,1)" text-anchor="middle" class="tk">0.15</text>
<text transform="translate(548.3,537) scale(0.93,1)" text-anchor="middle" class="tk">0.20</text>
<text transform="translate(588.7,537) scale(0.93,1)" text-anchor="middle" class="tk">0.25</text>
<text transform="translate(629.0,537) scale(0.93,1)" text-anchor="middle" class="tk">0.30</text>
<text transform="translate(669.3,537) scale(0.93,1)" text-anchor="middle" class="tk">0.35</text>
<text transform="translate(709.7,537) scale(0.93,1)" text-anchor="middle" class="tk">0.40</text>
<text transform="translate(750.0,537) scale(0.93,1)" text-anchor="middle" class="tk">0.45</text>
<line x1="483.8" y1="311.0" x2="487.8" y2="311.0" stroke="#3c3c3c" stroke-width="1.3"/>
<line x1="483.8" y1="337.2" x2="487.8" y2="337.2" stroke="#3c3c3c" stroke-width="1.3"/>
<line x1="483.8" y1="363.5" x2="487.8" y2="363.5" stroke="#3c3c3c" stroke-width="1.3"/>
<line x1="483.8" y1="389.8" x2="487.8" y2="389.8" stroke="#3c3c3c" stroke-width="1.3"/>
<line x1="483.8" y1="416.0" x2="487.8" y2="416.0" stroke="#3c3c3c" stroke-width="1.3"/>
<line x1="483.8" y1="442.2" x2="487.8" y2="442.2" stroke="#3c3c3c" stroke-width="1.3"/>
<line x1="483.8" y1="468.5" x2="487.8" y2="468.5" stroke="#3c3c3c" stroke-width="1.3"/>
<line x1="483.8" y1="494.8" x2="487.8" y2="494.8" stroke="#3c3c3c" stroke-width="1.3"/>
<line x1="483.8" y1="521.0" x2="487.8" y2="521.0" stroke="#3c3c3c" stroke-width="1.3"/>
<line x1="485.3" y1="324.1" x2="487.8" y2="324.1" stroke="#3c3c3c" stroke-width="1.2"/>
<line x1="485.3" y1="350.4" x2="487.8" y2="350.4" stroke="#3c3c3c" stroke-width="1.2"/>
<line x1="485.3" y1="376.6" x2="487.8" y2="376.6" stroke="#3c3c3c" stroke-width="1.2"/>
<line x1="485.3" y1="402.9" x2="487.8" y2="402.9" stroke="#3c3c3c" stroke-width="1.2"/>
<line x1="485.3" y1="429.1" x2="487.8" y2="429.1" stroke="#3c3c3c" stroke-width="1.2"/>
<line x1="485.3" y1="455.4" x2="487.8" y2="455.4" stroke="#3c3c3c" stroke-width="1.2"/>
<line x1="485.3" y1="481.6" x2="487.8" y2="481.6" stroke="#3c3c3c" stroke-width="1.2"/>
<line x1="485.3" y1="507.9" x2="487.8" y2="507.9" stroke="#3c3c3c" stroke-width="1.2"/>
<text transform="translate(480.3,315.1) scale(0.93,1)" text-anchor="end" class="tk">2.2</text>
<text transform="translate(480.3,341.4) scale(0.93,1)" text-anchor="end" class="tk">2.0</text>
<text transform="translate(480.3,367.6) scale(0.93,1)" text-anchor="end" class="tk">1.8</text>
<text transform="translate(480.3,393.9) scale(0.93,1)" text-anchor="end" class="tk">1.6</text>
<text transform="translate(480.3,420.1) scale(0.93,1)" text-anchor="end" class="tk">1.4</text>
<text transform="translate(480.3,446.4) scale(0.93,1)" text-anchor="end" class="tk">1.2</text>
<text transform="translate(480.3,472.6) scale(0.93,1)" text-anchor="end" class="tk">1.0</text>
<text transform="translate(480.3,498.9) scale(0.93,1)" text-anchor="end" class="tk">0.8</text>
<text transform="translate(480.3,525.1) scale(0.93,1)" text-anchor="end" class="tk">0.6</text>
<rect x="511.8" y="500.4" width="4.3" height="4.3" fill="#000"/>
<rect x="565.1" y="466.3" width="4.3" height="4.3" fill="#000"/>
<rect x="605.4" y="440.1" width="4.3" height="4.3" fill="#000"/>
<rect x="639.3" y="413.8" width="4.3" height="4.3" fill="#000"/>
<rect x="670.0" y="387.6" width="4.3" height="4.3" fill="#000"/>
<rect x="696.6" y="362.6" width="4.3" height="4.3" fill="#000"/>
<rect x="721.6" y="341.6" width="4.3" height="4.3" fill="#000"/>
<rect x="745.0" y="328.5" width="4.3" height="4.3" fill="#000"/>
<line x1="514.4" y1="507.9" x2="747.6" y2="330.4" stroke="#dd1414" stroke-width="2"/>
<text x="488.5" y="331" class="pl">d</text>
<text x="536.7" y="390.5" class="eq">y = 4.68x-0.04</text>
<text x="537.3" y="413" class="eq">R<tspan dy="-5.5" font-size="11.5">2</tspan><tspan dy="5.5"> = 0.995</tspan></text>
<text x="546.9" y="563.5" class="ti">Scan rate</text>
<text x="628.5" y="552" class="sup">1/2</text>
<text x="649.8" y="563.5" class="ti">(V/s)</text>
<text x="696" y="552" class="sup">1/2</text>
<text transform="translate(453,424.4) rotate(-90)" text-anchor="middle" class="ti">Current (mA)</text>
</svg></body></html>
